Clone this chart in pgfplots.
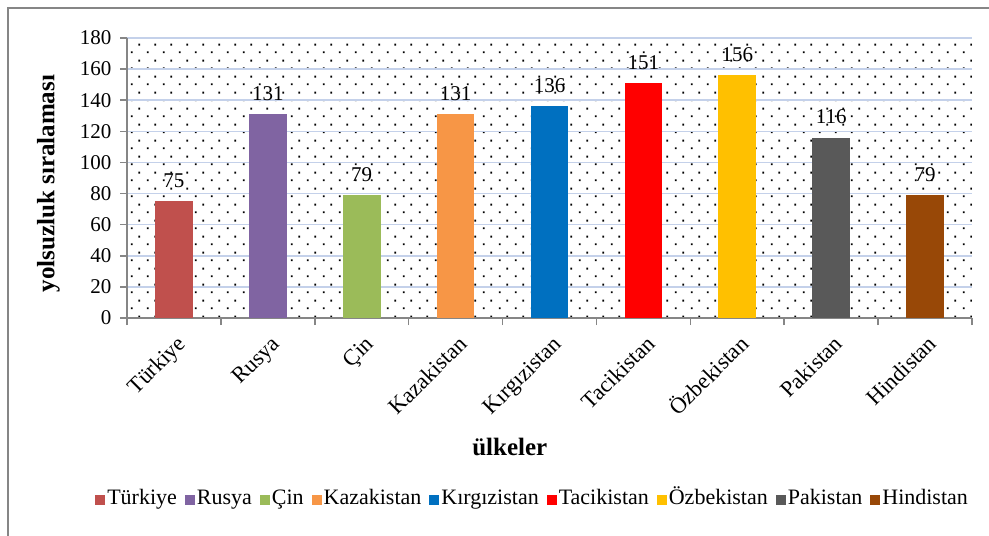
\documentclass[border=0pt]{standalone}
\usepackage{fontspec}
\setmainfont{Liberation Serif}
\usepackage{pgfplots}
\pgfplotsset{compat=1.18}
\usetikzlibrary{patterns}
\pgfdeclarepatternformonly{mydots}{\pgfpointorigin}{\pgfqpoint{16pt}{16pt}}{\pgfqpoint{16pt}{16pt}}{%
 \pgfpathrectangle{\pgfqpoint{3pt}{3pt}}{\pgfqpoint{2pt}{2pt}}%
 \pgfpathrectangle{\pgfqpoint{11pt}{11pt}}{\pgfqpoint{2pt}{2pt}}%
 \pgfusepath{fill}}
\definecolor{cTR}{HTML}{C0504D}
\definecolor{cRU}{HTML}{8064A2}
\definecolor{cCN}{HTML}{9BBB59}
\definecolor{cKZ}{HTML}{F79646}
\definecolor{cKG}{HTML}{0070C0}
\definecolor{cTJ}{HTML}{FF0000}
\definecolor{cUZ}{HTML}{FFC000}
\definecolor{cPK}{HTML}{595959}
\definecolor{cIN}{HTML}{984807}
\definecolor{axgray}{HTML}{868686}
\definecolor{gridblue}{RGB}{196,209,234}
\newcommand\fs{\fontsize{21}{25}\selectfont}
\newcommand\fx{\fontsize{22.5}{26}\selectfont}
\newcommand\fl{\fontsize{22}{26}\selectfont}
\newcommand\fb{\fontsize{25}{29}\selectfont\bfseries}
\pgfplotsset{sq legend/.style={legend image code/.code={\fill[##1] (0pt,-5pt) rectangle (10pt,5pt);}}}
\begin{document}
\begin{tikzpicture}
\path[use as bounding box] (0,0) rectangle (989pt,536pt);
\draw[draw=axgray, line width=2pt] (8pt,0pt) -- (8pt,528pt) -- (989pt,528pt);
\begin{axis}[
  at={(127pt,218pt)}, anchor=south west,
  scale only axis, width=845pt, height=280pt,
  ybar, bar width=37.6pt,
  every axis plot post/.append style={bar shift=0pt, draw=none, sq legend},
  xmin=-0.5, xmax=8.5, ymin=0, ymax=180,
  axis background/.style={pattern=mydots, pattern color=black},
  xtick={-0.5,0.5,1.5,2.5,3.5,4.5,5.5,6.5,7.5,8.5},
  x tick label as interval,
  xticklabels={Türkiye,Rusya,Çin,Kazakistan,Kırgızistan,Tacikistan,Özbekistan,Pakistan,Hindistan},
  xticklabel style={font=\fx, rotate=45, anchor=north east, inner sep=2pt, text height=11pt, text depth=0pt, xshift=-3pt, yshift=-10pt},
  ytick={0,20,...,180},
  yticklabel style={font=\fs, xshift=-5pt},
  /pgf/number format/assume math mode=true,
  axis x line*=bottom, axis y line*=left,
  axis line style={draw=axgray, line width=1.5pt, -},
  tick style={draw=axgray, line width=1.5pt},
  major tick length=7pt, tick align=outside,
  ymajorgrids, grid style={draw=gridblue, line width=1.5pt},
  nodes near coords,
  every node near coord/.append style={font=\fs, text=black, yshift=10pt},
  xlabel={\fb ülkeler},
  every axis x label/.style={at={(axis description cs:0.453,-0.461)}, anchor=center},
  ylabel={\fb yolsuzluk sıralaması},
  every axis y label/.style={at={(axis description cs:-0.093,0.48)}, rotate=90, anchor=center},
  legend columns=9,
  legend style={at={(axis description cs:0.48,-0.65)}, anchor=center, draw=none, fill=none, font=\fl,
    /tikz/every even column/.append style={column sep=6pt},
    nodes={inner xsep=2pt, text height=11pt, text depth=2pt}},
]
\addplot[fill=cTR] coordinates {(0,75)};
\addplot[fill=cRU] coordinates {(1,131)};
\addplot[fill=cCN] coordinates {(2,79)};
\addplot[fill=cKZ] coordinates {(3,131)};
\addplot[fill=cKG] coordinates {(4,136)};
\addplot[fill=cTJ] coordinates {(5,151)};
\addplot[fill=cUZ] coordinates {(6,156)};
\addplot[fill=cPK] coordinates {(7,116)};
\addplot[fill=cIN] coordinates {(8,79)};
\legend{Türkiye,Rusya,Çin,Kazakistan,Kırgızistan,Tacikistan,Özbekistan,Pakistan,Hindistan}
\end{axis}
\end{tikzpicture}
\end{document}
